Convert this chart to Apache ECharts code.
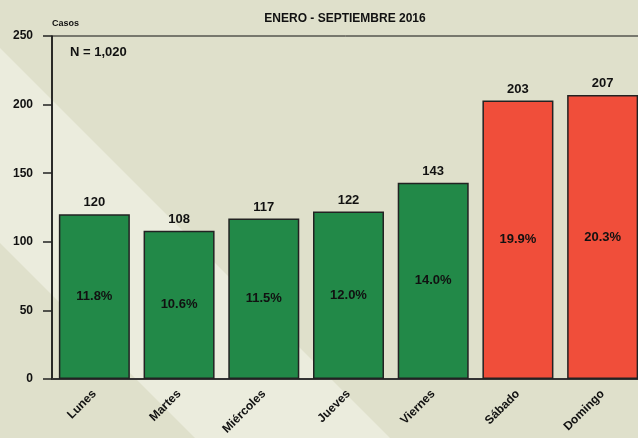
<!DOCTYPE html>
<html>
<head>
  <meta charset="utf-8">
  <title>Casos por día</title>
  <script src="https://cdn.jsdelivr.net/npm/echarts@6/dist/echarts.min.js"></script>
  <style>
    html, body { margin: 0; padding: 0; background: #dfe0cb; }
    #chart { width: 638px; height: 438px; }
  </style>
</head>
<body>
  <div id="chart"></div>
  <script type="text/javascript">
    // datos
    var dias = ['Lunes', 'Martes', 'Miércoles', 'Jueves', 'Viernes', 'Sábado', 'Domingo'];
    var casos = [120, 108, 117, 122, 143, 203, 207];
    var porcentajes = ['11.8%', '10.6%', '11.5%', '12.0%', '14.0%', '19.9%', '20.3%'];
    var yTicks = [0, 50, 100, 150, 200, 250];
    var finDeSemana = ['Sábado', 'Domingo'];

    var verde = '#228948';
    var rojo = '#f04e3a';
    var fuente = 'Liberation Sans, Arial, sans-serif';

    var barData = [];
    for (var i = 0; i < dias.length; i++) {
      barData.push({
        value: casos[i],
        itemStyle: { color: finDeSemana.indexOf(dias[i]) >= 0 ? rojo : verde }
      });
    }

    var myChart = echarts.init(document.getElementById('chart'));
    myChart.setOption({
      backgroundColor: '#dfe0cb',
      animation: false,
      title: {
        text: 'ENERO - SEPTIEMBRE 2016',
        left: 340,
        top: 8,
        textAlign: 'center',
        textStyle: { fontFamily: fuente, fontSize: 12, fontWeight: 'bold', color: '#111' }
      },
      graphic: [
        {
          // franja clara del fondo
          type: 'polygon',
          z: -10,
          silent: true,
          shape: { points: [[0, 48], [390, 438], [195, 438], [0, 243]] },
          style: { fill: '#ebecdd' }
        },
        {
          type: 'text',
          left: 52,
          top: 19,
          style: { text: 'Casos', font: 'bold 9px ' + fuente, fill: '#111' }
        },
        {
          type: 'text',
          left: 70,
          top: 46,
          style: { text: 'N = 1,020', font: 'bold 13px ' + fuente, fill: '#111' }
        }
      ],
      grid: {
        left: 52,
        top: 36,
        width: 593,
        bottom: 59,
        outerBoundsMode: 'none',
        containLabel: false,
        show: true,
        borderColor: '#111',
        borderWidth: 1,
        backgroundColor: 'transparent'
      },
      xAxis: {
        type: 'category',
        data: dias,
        axisLine: { lineStyle: { color: '#333', width: 2 } },
        axisTick: { alignWithLabel: true, length: 8, lineStyle: { color: '#222', width: 1.5 } },
        axisLabel: {
          rotate: 45,
          margin: 13,
          interval: 0,
          fontFamily: fuente,
          fontSize: 12,
          fontWeight: 'bold',
          color: '#111'
        }
      },
      yAxis: {
        type: 'value',
        min: yTicks[0],
        max: yTicks[yTicks.length - 1],
        interval: 50,
        splitLine: { show: false },
        axisLine: { show: true, lineStyle: { color: '#111', width: 1.5 } },
        axisTick: { show: true, inside: false, length: 9, lineStyle: { color: '#222', width: 1.5 } },
        axisLabel: {
          margin: 19,
          fontFamily: fuente,
          fontSize: 12,
          fontWeight: 'bold',
          color: '#111'
        }
      },
      series: [{
        type: 'bar',
        data: barData,
        barWidth: 71,
        itemStyle: { borderColor: '#222', borderWidth: 1.5 },
        label: {
          show: true,
          position: 'top',
          distance: 5,
          fontFamily: fuente,
          fontSize: 13,
          fontWeight: 'bold',
          color: '#111'
        }
      }, {
        // etiquetas de porcentaje dentro de las barras
        type: 'bar',
        data: casos,
        barWidth: 71,
        barGap: '-100%',
        itemStyle: { color: 'transparent' },
        silent: true,
        label: {
          show: true,
          position: 'inside',
          formatter: function (p) { return porcentajes[p.dataIndex]; },
          fontFamily: fuente,
          fontSize: 13,
          fontWeight: 'bold',
          color: '#111'
        }
      }]
    });
  </script>
</body>
</html>
